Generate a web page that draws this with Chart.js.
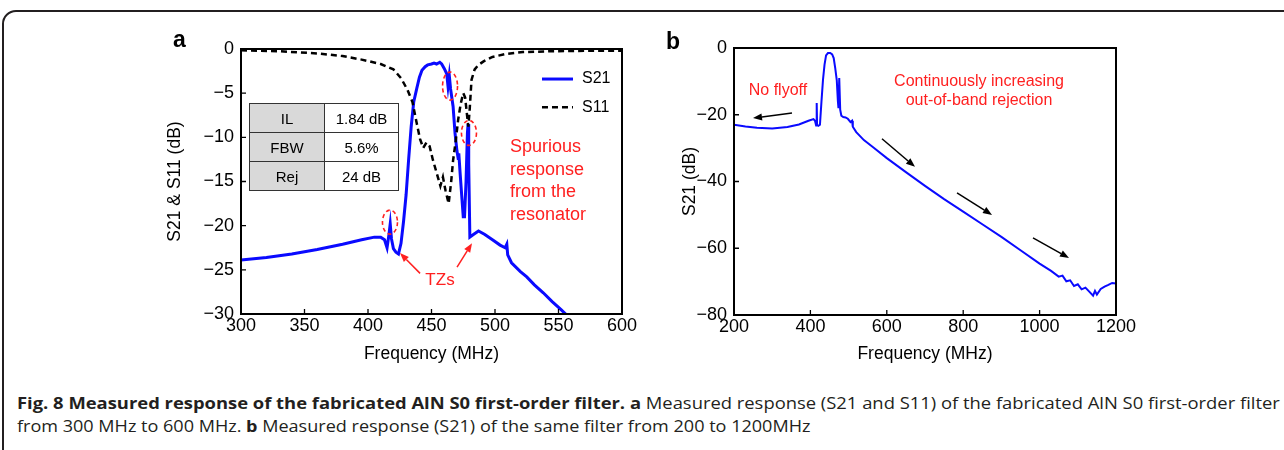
<!DOCTYPE html>
<html>
<head>
<meta charset="utf-8">
<script src="https://cdn.jsdelivr.net/npm/chart.js@4.4.1/dist/chart.umd.min.js"></script>
<style>
  body { margin: 0; width: 1284px; height: 450px; overflow: hidden; background: #fff; font-family: "Liberation Sans", Arial, sans-serif; }
  #frame { position: absolute; left: 2px; top: 10px; width: 1320px; height: 470px; border: 2px solid #231f20; border-radius: 14px; box-sizing: border-box; }
  .panel { position: absolute; top: 30px; }
  .tag { position: absolute; font-weight: bold; font-size: 23px; color: #000; }
  #tbl { position: absolute; left: 249px; top: 103px; border-collapse: collapse; font-size: 15px; }
  #tbl td { border: 1px solid #333; height: 28px; text-align: center; padding: 0; }
  #tbl td.k { background: #d9d9d9; width: 74px; }
  #tbl td.v { background: #fff; width: 73px; }
  .cap { position: absolute; left: 17px; font-family: "Open Sans", sans-serif; font-size: 16px; color: #231f20; white-space: nowrap; transform-origin: 0 50%; }
</style>
</head>
<body>
<div id="frame"></div>
<div class="panel" style="left:150px;width:490px;height:340px"><canvas id="chartA" width="490" height="340"></canvas></div>
<div class="panel" style="left:640px;width:500px;height:340px"><canvas id="chartB" width="500" height="340"></canvas></div>
<div class="tag" style="left:173px;top:26px">a</div>
<div class="tag" style="left:666px;top:28px">b</div>
<table id="tbl">
  <tr><td class="k">IL</td><td class="v">1.84 dB</td></tr>
  <tr><td class="k">FBW</td><td class="v">5.6%</td></tr>
  <tr><td class="k">Rej</td><td class="v">24 dB</td></tr>
</table>
<div class="cap" id="cap1" style="top:392px"><b>Fig. 8 Measured response of the fabricated AlN S0 first-order filter.</b> <b>a</b> Measured response (S21 and S11) of the fabricated AlN S0 first-order filter</div>
<div class="cap" id="cap2" style="top:415px">from 300 MHz to 600 MHz. <b>b</b> Measured response (S21) of the same filter from 200 to 1200MHz</div>

<script>
// panel a: S21 (MHz, dB)
const freqA21 = [300, 320, 340, 360, 380, 395, 405, 410, 413, 415, 416.5, 417.5, 418.5, 420, 422, 424, 426, 428, 430, 432, 434, 436, 438.5, 440.5, 442.5, 445, 447, 450, 452, 454, 456.5, 458, 460, 462, 463, 464, 465, 467, 468.5, 470, 471, 471.5, 472.5, 474, 475, 476, 477.2, 478.3, 478.8, 479.3, 480.2, 483, 487, 492, 498, 504, 508, 509.3, 510, 513, 520, 525, 531, 538, 545, 552, 557];
const s21A = [-23.9, -23.6, -23.2, -22.7, -22.1, -21.6, -21.3, -21.3, -21.6, -22.5, -21.0, -19.8, -21.5, -22.6, -23.0, -23.2, -22.0, -19.5, -16.5, -12.5, -8.8, -6.0, -4.4, -3.2, -2.4, -2.0, -1.8, -1.7, -1.6, -1.7, -1.5, -1.7, -2.2, -2.8, -4.2, -3.0, -4.5, -6.5, -9.5, -11.5, -12.4, -11.8, -14.0, -17.0, -19.0, -19.0, -15.0, -9.5, -8.5, -13.0, -21.3, -21.0, -20.6, -21.0, -21.6, -22.2, -22.5, -22.1, -23.3, -24.2, -25.2, -25.8, -26.7, -27.6, -28.6, -29.5, -30.2];

// panel a: S11
const freqA11 = [300, 330, 360, 380, 395, 410, 420, 426, 431, 435, 438.5, 441, 443.5, 446, 448.5, 451, 454, 457, 459, 461, 463.5, 465.5, 467, 469, 471, 473, 475, 476.5, 478, 479, 480, 481.5, 484, 487, 491, 498, 509, 522, 545, 575, 600];
const s11A = [-0.15, -0.25, -0.5, -0.8, -1.2, -1.7, -2.3, -3.3, -4.6, -6.0, -8.5, -10.2, -11.2, -10.6, -11.0, -12.5, -14.0, -15.5, -14.5, -16.0, -17.5, -15.0, -12.6, -10.5, -8.0, -6.2, -5.0, -5.5, -7.5, -8.8, -7.0, -3.5, -2.3, -1.8, -1.4, -0.9, -0.55, -0.35, -0.25, -0.2, -0.2];

// panel b: S21 wideband
const freqB = [200, 230, 260, 300, 340, 370, 395, 408, 412, 415, 416.5, 417.5, 421, 425, 429, 433, 437, 441, 446, 452, 457, 461, 465, 469, 472, 473.5, 475.5, 476.5, 478, 481, 486, 492, 498, 505, 509, 511, 520, 540, 565, 600, 650, 700, 750, 800, 850, 900, 950, 1000, 1030, 1050, 1060, 1070, 1080, 1090, 1100, 1110, 1120, 1130, 1140, 1145, 1150, 1160, 1170, 1180, 1190, 1200];
const s21B = [-23.0, -23.5, -23.9, -24.1, -23.7, -22.9, -21.8, -21.3, -21.8, -23.2, -16.5, -23.0, -23.3, -23.0, -16.0, -9.5, -5.0, -2.2, -1.5, -1.5, -1.9, -3.0, -6.0, -9.6, -16.0, -18.0, -9.0, -9.0, -18.5, -20.3, -20.7, -20.8, -21.2, -22.2, -21.8, -23.6, -25.2, -27.6, -29.8, -33.0, -37.2, -41.3, -45.3, -49.0, -52.8, -56.6, -60.6, -64.6, -66.8, -68.5, -68.2, -69.9, -69.6, -71.3, -70.8, -72.3, -71.8, -73.0, -74.2, -72.8, -73.9, -72.2, -71.5, -71.0, -70.4, -70.6];

const ticksA_x = [300, 350, 400, 450, 500, 550, 600];
const ticksA_y = [0, -5, -10, -15, -20, -25, -30];
const ticksB_x = [200, 400, 600, 800, 1000, 1200];
const ticksB_y = [0, -20, -40, -60, -80];

const BLUE = '#0a0aff';
const RED = '#ff2020';
const FONT = '"Liberation Sans", Arial, sans-serif';

const pts = (xs, ys) => xs.map((x, i) => ({ x, y: ys[i] }));
const minus = v => String(v).replace('-', '\u2212');

// frame around plot area plus inward ticks on bottom/left
const frameTicks = {
  id: 'frameTicks',
  afterDatasetsDraw(chart) {
    const { ctx, chartArea: a, scales: { x, y } } = chart;
    ctx.save();
    ctx.strokeStyle = '#000';
    ctx.lineWidth = 1.3;
    ctx.beginPath();
    x.ticks.forEach(t => {
      const px = x.getPixelForValue(t.value);
      ctx.moveTo(px, a.bottom); ctx.lineTo(px, a.bottom - 5);
    });
    y.ticks.forEach(t => {
      const py = y.getPixelForValue(t.value);
      ctx.moveTo(a.left, py); ctx.lineTo(a.left + 5, py);
    });
    ctx.stroke();
    ctx.lineWidth = 2;
    ctx.strokeRect(a.left, a.top, a.right - a.left, a.bottom - a.top);
    ctx.restore();
  }
};

function arrow(ctx, x1, y1, x2, y2, color, w) {
  const ang = Math.atan2(y2 - y1, x2 - x1);
  const hl = 9, hw = 3.5;
  ctx.save();
  ctx.strokeStyle = color; ctx.fillStyle = color; ctx.lineWidth = w;
  ctx.beginPath();
  ctx.moveTo(x1, y1);
  ctx.lineTo(x2 - Math.cos(ang) * hl, y2 - Math.sin(ang) * hl);
  ctx.stroke();
  ctx.beginPath();
  ctx.moveTo(x2, y2);
  ctx.lineTo(x2 - Math.cos(ang) * hl - Math.sin(ang) * hw, y2 - Math.sin(ang) * hl + Math.cos(ang) * hw);
  ctx.lineTo(x2 - Math.cos(ang) * hl + Math.sin(ang) * hw, y2 - Math.sin(ang) * hl - Math.cos(ang) * hw);
  ctx.closePath();
  ctx.fill();
  ctx.restore();
}

// annotations for panel a, placed in data units
const notesA = {
  id: 'notesA',
  afterDraw(chart) {
    const { ctx, scales: { x, y } } = chart;
    const X = v => x.getPixelForValue(v), Y = v => y.getPixelForValue(v);
    ctx.save();
    // legend
    ctx.lineWidth = 3; ctx.strokeStyle = BLUE;
    ctx.beginPath(); ctx.moveTo(X(537), Y(-3.4)); ctx.lineTo(X(561.4), Y(-3.4)); ctx.stroke();
    ctx.strokeStyle = '#000'; ctx.lineWidth = 2.5; ctx.setLineDash([6, 4]);
    ctx.beginPath(); ctx.moveTo(X(537), Y(-6.6)); ctx.lineTo(X(561.4), Y(-6.6)); ctx.stroke();
    ctx.setLineDash([]);
    ctx.fillStyle = '#000'; ctx.font = '16px ' + FONT; ctx.textBaseline = 'middle'; ctx.textAlign = 'left';
    ctx.fillText('S21', X(568.5), Y(-3.4));
    ctx.fillText('S11', X(568.5), Y(-6.6));
    // red dashed ellipses
    ctx.strokeStyle = RED; ctx.lineWidth = 1.6; ctx.setLineDash([4, 3]);
    [[417.3, -19.6, 7.5, 12], [464.6, -4.2, 7.5, 14], [479.5, -9.5, 7.5, 12.5]].forEach(([fx, fy, rx, ry]) => {
      ctx.beginPath(); ctx.ellipse(X(fx), Y(fy), rx, ry, 0, 0, Math.PI * 2); ctx.stroke();
    });
    ctx.setLineDash([]);
    // red text
    ctx.fillStyle = RED; ctx.font = '18px ' + FONT;
    ['Spurious', 'response', 'from the', 'resonator'].forEach((s, i) => {
      ctx.fillText(s, X(511.8), Y(-11.1 - i * 2.55));
    });
    ctx.font = '17px ' + FONT; ctx.textAlign = 'center';
    ctx.fillText('TZs', X(456.7), Y(-26.2));
    arrow(ctx, X(441), Y(-25.4), X(425.2), Y(-23.1), RED, 1.5);
    arrow(ctx, X(470.1), Y(-24.7), X(481.9), Y(-22), RED, 1.5);
    ctx.restore();
  }
};

// annotations for panel b
const notesB = {
  id: 'notesB',
  afterDraw(chart) {
    const { ctx, scales: { x, y } } = chart;
    const X = v => x.getPixelForValue(v), Y = v => y.getPixelForValue(v);
    ctx.save();
    ctx.fillStyle = RED; ctx.font = '16px ' + FONT; ctx.textAlign = 'center'; ctx.textBaseline = 'middle';
    ctx.fillText('No flyoff', X(315), Y(-12.9));
    ctx.fillText('Continuously increasing', X(841.4), Y(-10.2));
    ctx.fillText('out-of-band rejection', X(841.4), Y(-15.9));
    arrow(ctx, X(351.8), Y(-19.5), X(249.7), Y(-21.0), '#000', 1.5);
    arrow(ctx, X(587.4), Y(-27.2), X(673.8), Y(-35.6), '#000', 1.5);
    arrow(ctx, X(783.8), Y(-43.4), X(875.4), Y(-50), '#000', 1.5);
    arrow(ctx, X(982.7), Y(-56.9), X(1077), Y(-62.9), '#000', 1.5);
    ctx.restore();
  }
};

function axes(xMin, xMax, xStep, yMin, yStep, yWidth, xHeight, yTitle) {
  return {
    x: {
      type: 'linear', min: xMin, max: xMax,
      grid: { display: false, drawTicks: false }, border: { display: false },
      ticks: { stepSize: xStep, padding: 1, color: '#000', font: { size: 18, family: FONT }, callback: v => String(v) },
      title: { display: true, text: 'Frequency (MHz)', color: '#000', padding: 0, font: { size: 17.5, family: FONT } },
      afterFit(s) { s.height = xHeight; }
    },
    y: {
      min: yMin, max: 0,
      grid: { display: false, drawTicks: false }, border: { display: false },
      ticks: { stepSize: yStep, padding: 7, color: '#000', font: { size: 18, family: FONT }, callback: minus },
      title: { display: true, text: yTitle, color: '#000', padding: 0, font: { size: 17.5, family: FONT } },
      afterFit(s) { s.width = yWidth; }
    }
  };
}

const common = {
  responsive: false,
  animation: false,
  plugins: { legend: { display: false }, tooltip: { enabled: false } }
};

new Chart(document.getElementById('chartA').getContext('2d'), {
  type: 'line',
  data: {
    datasets: [
      { label: 'S11', data: pts(freqA11, s11A), borderColor: '#000', borderWidth: 2.5, borderDash: [6, 4], pointRadius: 0, tension: 0 },
      { label: 'S21', data: pts(freqA21, s21A), borderColor: BLUE, borderWidth: 3, pointRadius: 0, tension: 0 }
    ]
  },
  options: Object.assign({}, common, {
    layout: { padding: { left: 15, right: 18, top: 19, bottom: 5 } },
    scales: axes(ticksA_x[0], ticksA_x[ticksA_x.length - 1], 50, ticksA_y[ticksA_y.length - 1], 5, 76, 51, 'S21 & S11 (dB)')
  }),
  plugins: [frameTicks, notesA]
});

new Chart(document.getElementById('chartB').getContext('2d'), {
  type: 'line',
  data: {
    datasets: [
      { label: 'S21', data: pts(freqB, s21B), borderColor: BLUE, borderWidth: 2, pointRadius: 0, tension: 0 }
    ]
  },
  options: Object.assign({}, common, {
    layout: { padding: { left: 40, right: 24, top: 18, bottom: 5 } },
    scales: axes(ticksB_x[0], ticksB_x[ticksB_x.length - 1], 200, ticksB_y[ticksB_y.length - 1], 20, 54, 50, 'S21 (dB)')
  }),
  plugins: [frameTicks, notesB]
});

// squeeze caption lines to the reference widths
[['cap1', 1263], ['cap2', 793]].forEach(([id, w]) => {
  const el = document.getElementById(id);
  el.style.transform = 'scaleX(' + (w / el.scrollWidth) + ')';
});
</script>
</body>
</html>
